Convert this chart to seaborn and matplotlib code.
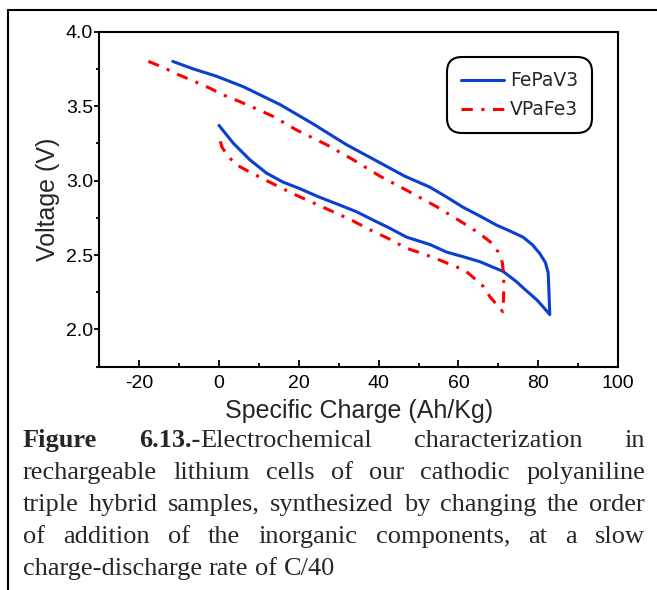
import pandas as pd
import seaborn as sns
import matplotlib.pyplot as plt
from matplotlib.lines import Line2D

fe_x = [-11.6, -6.5, -0.6, 6.1, 15.3, 23.6, 32.0, 40.3, 46.5, 52.9, 57.0, 61.2, 65.5, 69.6,
        73.0, 76.2, 78.5, 80.4, 81.8, 82.5, 82.7, 82.9,
        81.3, 79.6, 77.9, 76.2, 74.6, 71.2, 68.5, 65.4, 61.0, 57.0, 52.9, 47.0, 42.8, 38.6,
        34.5, 30.3, 25.0, 20.3, 16.0, 11.9, 7.7, 3.6, 1.5, 0.0]
fe_y = [3.80, 3.75, 3.70, 3.63, 3.51, 3.38, 3.24, 3.12, 3.03, 2.955, 2.89, 2.82, 2.76, 2.70,
        2.66, 2.62, 2.57, 2.51, 2.45, 2.38, 2.25, 2.10,
        2.15, 2.20, 2.24, 2.28, 2.32, 2.39, 2.42, 2.455, 2.49, 2.52, 2.57, 2.62, 2.68, 2.735,
        2.79, 2.835, 2.89, 2.945, 2.99, 3.05, 3.14, 3.25, 3.32, 3.37]

vp_x = [-17.7, -14.0, -10.6, -6.5, -2.3, 1.5, 5.2, 9.5, 13.6, 19.4, 27.0, 33.6, 40.3, 47.0,
        54.5, 61.2, 65.0, 67.9, 70.0, 71.0, 71.3, 71.4, 71.3, 71.1,
        69.5, 67.9, 66.2, 63.7, 61.5, 59.5, 55.4, 51.0, 47.0, 42.5, 37.8, 33.5, 30.3, 28.6,
        24.5, 20.3, 16.0, 11.9, 7.5, 4.4, 2.0, 0.65, 0.0]
vp_y = [3.80, 3.76, 3.715, 3.67, 3.62, 3.57, 3.53, 3.48, 3.43, 3.34, 3.24, 3.14, 3.03, 2.935,
        2.825, 2.715, 2.65, 2.59, 2.52, 2.45, 2.38, 2.29, 2.20, 2.12,
        2.17, 2.22, 2.29, 2.35, 2.40, 2.42, 2.465, 2.51, 2.545, 2.61, 2.67, 2.73, 2.77, 2.79,
        2.84, 2.89, 2.945, 3.00, 3.06, 3.105, 3.17, 3.23, 3.30]

samples = ['FePaV3', 'VPaFe3']
colors = {'FePaV3': '#0a3fd0', 'VPaFe3': '#ff0000'}

caption_bold = 'Figure 6.13.-'
caption_lines = [
    'Figure 6.13.-Electrochemical characterization in',
    'rechargeable lithium cells of our cathodic polyaniline',
    'triple hybrid samples, synthesized by changing the order',
    'of addition of the inorganic components, at a slow',
    'charge-discharge rate of C/40',
]

df = pd.concat([
    pd.DataFrame({'x': fe_x, 'y': fe_y, 'sample': 'FePaV3'}),
    pd.DataFrame({'x': vp_x, 'y': vp_y, 'sample': 'VPaFe3'}),
], ignore_index=True)

sns.set_style('white')
plt.rcParams['font.family'] = ['Liberation Sans', 'DejaVu Sans']
plt.rcParams['axes.unicode_minus'] = False

W, H = 657, 590
fig = plt.figure(figsize=(W / 100, H / 100), dpi=100)
ax = fig.add_axes([99.3 / W, 1 - 366.7 / H, (618 - 99.3) / W, (366.7 - 31.6) / H])

sns.lineplot(data=df, x='x', y='y', hue='sample', style='sample', hue_order=samples,
             style_order=samples, sort=False, estimator=None, palette=colors,
             dashes={'FePaV3': '', 'VPaFe3': (3.7, 2.8, 1.0, 2.8)},
             linewidth=2.2, ax=ax)

ax.set_xlim(-30, 100)
ax.set_ylim(1.75, 4.0)
ax.set_xticks([-20, 0, 20, 40, 60, 80, 100])
ax.set_xticks(range(-30, 101, 10), minor=True)
ax.set_yticks([2.0, 2.5, 3.0, 3.5, 4.0])
ax.set_yticks([1.75, 2.25, 2.75, 3.25, 3.75], minor=True)
ax.set_yticklabels(['2.0', '2.5', '3.0', '3.5', '4.0'])
ax.tick_params(axis='x', which='major', direction='in', length=5, width=1.3, labelsize=14, pad=6)
ax.tick_params(axis='x', which='minor', direction='in', length=3, width=1.3)
ax.tick_params(axis='y', which='major', direction='out', length=3.5, width=1.3, labelsize=14, pad=1)
ax.tick_params(axis='y', which='minor', direction='out', length=2.5, width=1.3)
ax.tick_params(bottom=True, left=True, which='both', colors='black')
for s in ax.spines.values():
    s.set_color('black')
    s.set_linewidth(1.5)

ax.set_xlabel('Specific Charge (Ah/Kg)', fontsize=18, labelpad=5)
ax.set_ylabel('Voltage (V)', fontsize=18, labelpad=4)

handles, labels = ax.get_legend_handles_labels()
leg = ax.legend(handles, labels, loc='upper right', bbox_to_anchor=(592 / W, 1 - 57 / H),
                bbox_transform=fig.transFigure, fontsize=13.5, frameon=True, framealpha=1,
                edgecolor='black', handlelength=2.3, handletextpad=0.3, labelspacing=0.55,
                borderpad=0.75, borderaxespad=0)
leg.get_frame().set_linewidth(1.5)
leg.get_frame().set_boxstyle('round,pad=0,rounding_size=0.8')
for t in leg.get_texts():
    t.set_fontfamily('DejaVu Sans')

# outer frame of the figure panel
fig.add_artist(Line2D([8 / W, 8 / W], [0, 1 - 10 / H], transform=fig.transFigure, color='black', lw=1.5))
fig.add_artist(Line2D([8 / W, 1], [1 - 10 / H, 1 - 10 / H], transform=fig.transFigure, color='black', lw=1.5))

# justified caption
renderer = fig.canvas.get_renderer()
cap_font = dict(family='Liberation Serif', size=19)


def text_width(s, bold):
    t = fig.text(0, 0, s, fontweight='bold' if bold else 'normal', **cap_font)
    w = t.get_window_extent(renderer).width
    t.remove()
    return w


space_w = text_width('a a', False) - text_width('aa', False)
left, right = 23, 645
for i, line in enumerate(caption_lines):
    nb = len(caption_bold) if i == 0 else 0
    words, pos = [], 0
    for w in line.split(' '):
        k = max(0, min(len(w), nb - pos))
        runs = [(r, b) for r, b in [(w[:k], True), (w[k:], False)] if r]
        words.append([(r, b, text_width(r, b)) for r, b in runs])
        pos += len(w) + 1
    total = sum(rw for word in words for _, _, rw in word)
    if i < len(caption_lines) - 1:
        gap = (right - left - total) / (len(words) - 1)
    else:
        gap = space_w
    x = left
    y = 1 - (447 + 32 * i) / H
    for word in words:
        for r, b, rw in word:
            fig.text(x / W, y, r, ha='left', va='baseline',
                     fontweight='bold' if b else 'normal', **cap_font)
            x += rw
        x += gap

fig.savefig('out.png', dpi=100)
